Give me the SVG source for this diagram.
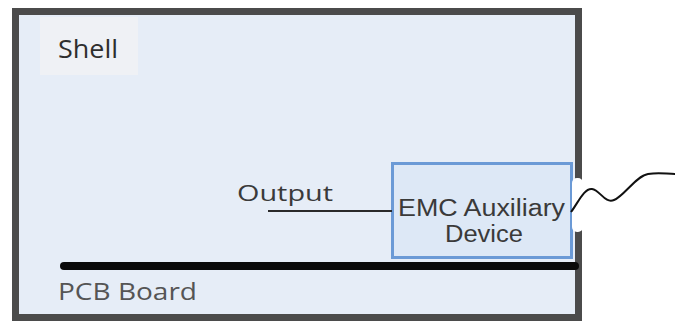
<svg xmlns="http://www.w3.org/2000/svg" width="677" height="325" viewBox="0 0 677 325">
<style>
.lbl{font-family:"Open Sans","Noto Sans",sans-serif;fill:#3a3a3a}
.emc{font-family:"Liberation Sans",Arial,sans-serif;fill:#3a3a3a}
</style>
<rect width="677" height="325" fill="#ffffff"/>
<g id="shell">
<rect x="15.5" y="11.5" width="563" height="306" fill="#e6edf7" stroke="#4b4b4b" stroke-width="7"/>
<rect x="40" y="17" width="98" height="58" fill="#eff1f5"/>
<text class="lbl" x="58" y="58" font-size="26" textLength="60" lengthAdjust="spacingAndGlyphs" style="fill:#2e2e2e">Shell</text>
</g>
<g id="pcb">
<line x1="64" y1="266" x2="575" y2="266" stroke="#0a0a0a" stroke-width="8" stroke-linecap="round"/>
<text class="lbl" x="58" y="300" font-size="23" textLength="139" lengthAdjust="spacingAndGlyphs" style="fill:#555">PCB Board</text>
</g>
<g id="emc">
<rect x="392.5" y="163.5" width="179" height="94" fill="#dde8f6" stroke="#6b9ad6" stroke-width="3"/>
<text class="emc" x="398" y="216" font-size="23" textLength="167" lengthAdjust="spacingAndGlyphs">EMC Auxiliary</text>
<text class="emc" x="445" y="242" font-size="23" textLength="78" lengthAdjust="spacingAndGlyphs">Device</text>
</g>
<g id="gap">
<rect x="572" y="178" width="11" height="54" rx="5" fill="#ffffff"/>
</g>
<g id="output">
<text class="lbl" x="237" y="201" font-size="22" textLength="96" lengthAdjust="spacingAndGlyphs">Output</text>
</g>
<g id="connectors">
<line x1="268" y1="211" x2="392" y2="211" stroke="#2a2a2a" stroke-width="2"/>
<path d="M571,212 C578,203 584,188 592,189 C600,190 605,204 614,200 C624,196 636,176 648,174 C660,172 666,174 675,174" fill="none" stroke="#111" stroke-width="2"/>
</g>
</svg>
